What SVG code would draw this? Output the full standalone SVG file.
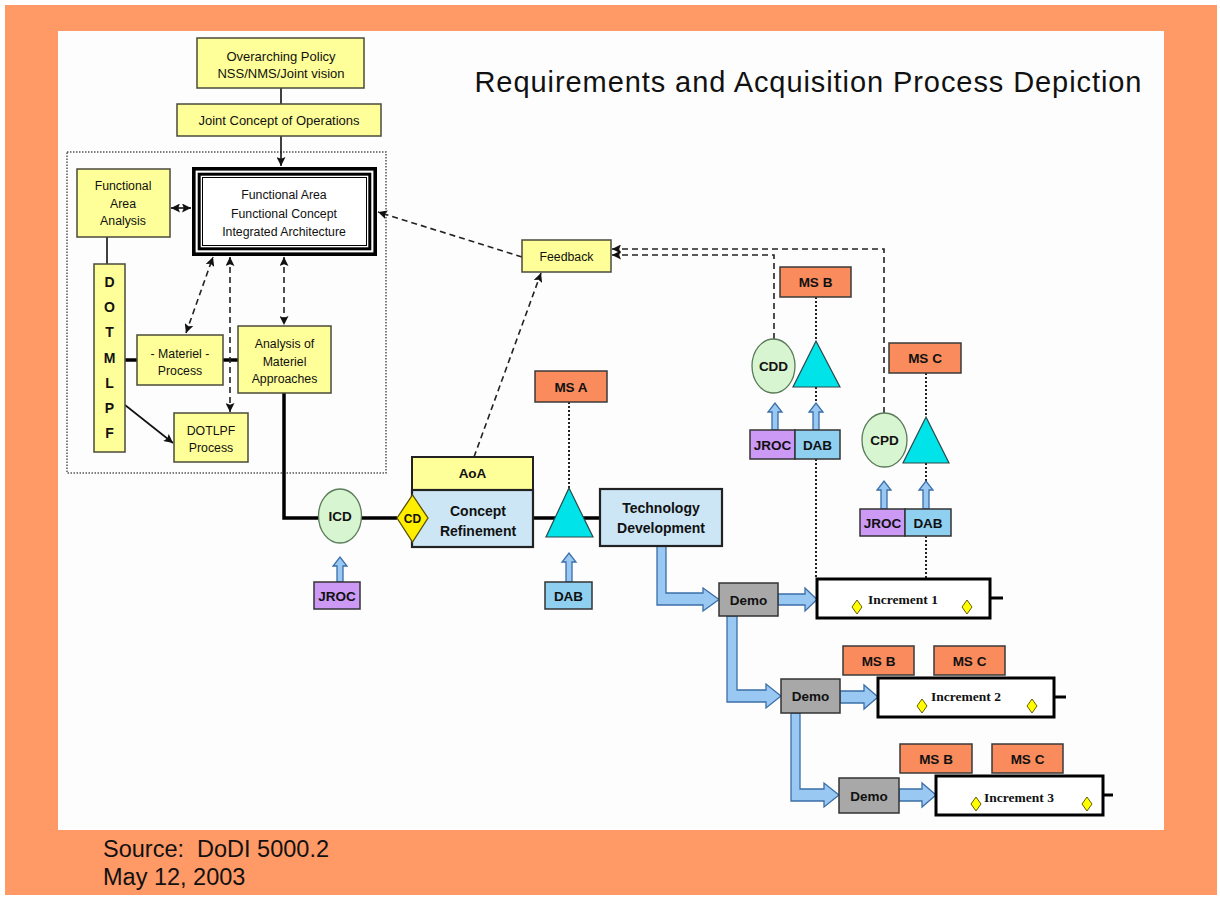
<svg xmlns="http://www.w3.org/2000/svg" width="1220" height="898" viewBox="0 0 1220 898">
  <defs>
    <style>
      text { font-family: "Liberation Sans", Arial, sans-serif; fill: #111; text-anchor: middle; }
      .r13 { font-size: 13px; }
      .r12 { font-size: 12.3px; }
      .b13 { font-size: 13.5px; font-weight: bold; }
      .b14 { font-size: 14px; font-weight: bold; }
      .inc { font-family: "Liberation Serif", "Times New Roman", serif; font-size: 13.5px; font-weight: bold; }
      .yel { fill: #ffff99; stroke: #4a4a3a; stroke-width: 1.5; }
      .ms { fill: #f98b5c; stroke: #3a3a3a; stroke-width: 1.5; }
      .lb { fill: #cce6f6; stroke: #222; stroke-width: 2.2; }
      .jroc { fill: #cc99f5; stroke: #333; stroke-width: 1.5; }
      .dab { fill: #8fd0f0; stroke: #333; stroke-width: 1.5; }
      .tri { fill: #00e3e8; stroke: #2a4a4a; stroke-width: 1.2; }
      .ell { fill: #d6f5d0; stroke: #5a7a5a; stroke-width: 1.3; }
      .demo { fill: #a8a8a8; stroke: #333; stroke-width: 1.5; }
      .incbox { fill: #ffffff; stroke: #000; stroke-width: 3; }
      .dia { fill: #ffff00; stroke: #6a5a00; stroke-width: 1; }
      .barrow { fill: #99c9f2; stroke: #3b6ea8; stroke-width: 1.3; }
      .solid { fill: none; stroke: #111; stroke-width: 1.6; }
      .thick { fill: none; stroke: #000; stroke-width: 3.5; }
      .dash { fill: none; stroke: #222; stroke-width: 1.6; stroke-dasharray: 6 4; }
      .dot { fill: none; stroke: #222; stroke-width: 2; stroke-dasharray: 2 2; }
    </style>
    <marker id="ah" viewBox="0 0 10 10" refX="10" refY="5" markerWidth="9" markerHeight="9" markerUnits="userSpaceOnUse" orient="auto-start-reverse">
      <path d="M0,0 L10,5 L0,10 L2,5 Z" fill="#111"/>
    </marker>
  </defs>

  <!-- slide background -->
  <rect x="0" y="0" width="1220" height="898" fill="#ffffff"/>
  <rect x="5" y="5" width="1212" height="890" fill="#ff9966"/>
  <rect x="58" y="31" width="1106" height="799" fill="#fdfdfd"/>

  <text x="808" y="92" font-size="29" textLength="667" lengthAdjust="spacing">Requirements and Acquisition Process Depiction</text>

  <text x="103" y="857" font-size="23.5" style="text-anchor:start">Source:&#160; DoDI 5000.2</text>
  <text x="103" y="885" font-size="23.5" style="text-anchor:start">May 12, 2003</text>

  <!-- dotted frame around the functional analysis area -->
  <rect x="67" y="152" width="319" height="321" fill="none" stroke="#555" stroke-width="1.5" stroke-dasharray="1.5 1.5"/>

  <!-- connectors -->
  <g id="connectors">
    <path class="solid" d="M281,88 V104"/>
    <path class="solid" d="M281,136 V166" marker-end="url(#ah)"/>
    <path class="solid" d="M171,208 H191" marker-start="url(#ah)" marker-end="url(#ah)"/>
    <path class="solid" d="M107,237 V264"/>
    <path class="thick" d="M125,360 H137"/>
    <path class="thick" d="M223,360 H238"/>
    <path class="solid" d="M125,405 L173,443" marker-end="url(#ah)"/>
    <path class="dash" d="M186,333 L213,257" marker-start="url(#ah)" marker-end="url(#ah)"/>
    <path class="dash" d="M230,257 V412" marker-start="url(#ah)" marker-end="url(#ah)"/>
    <path class="dash" d="M284,257 V325" marker-start="url(#ah)" marker-end="url(#ah)"/>
    <path class="thick" d="M284,393 V518 H318"/>
    <path class="thick" d="M361,518 H397"/>
    <path class="thick" d="M533,518 H600"/>
    <path class="dash" d="M522,257 L378,212" marker-end="url(#ah)"/>
    <path class="dash" d="M474,457 L541,273" marker-end="url(#ah)"/>
    <path class="dash" d="M774,339 V255 H612" marker-end="url(#ah)"/>
    <path class="dash" d="M884,413 V249 H612" marker-end="url(#ah)"/>
    <path class="dot" d="M569,402 V488"/>
    <path class="dot" d="M816,297 V341 M816,387 V430 M816,459 V578"/>
    <path class="dot" d="M926,373 V417 M926,463 V509 M926,536 V578"/>
  </g>

  <!-- block arrows -->
  <g id="flow-arrows">
    <path class="barrow" d="M657,546 V605 H703 V611 L719,599.5 L703,588 V593 H666 V546 Z"/>
    <path class="barrow" d="M778,594 H805 V588 L817,599.5 L805,611 V605 H778 Z"/>
    <path class="barrow" d="M727,616 V702 H766 V708 L781,696 L766,684 V690 H737 V616 Z"/>
    <path class="barrow" d="M840,691 H864 V685 L878,697 L864,709 V703 H840 Z"/>
    <path class="barrow" d="M791,713 V801 H824 V807 L839,795 L824,783 V789 H800 V713 Z"/>
    <path class="barrow" d="M899,789 H922 V783 L936,795 L922,807 V801 H899 Z"/>
    <path class="barrow" d="M337,582 V566 H333 L340,557 L347,566 H343 V582 Z"/>
    <path class="barrow" d="M566,582 V562 H562 L569,553 L576,562 H572 V582 Z"/>
    <path class="barrow" d="M772,430 V412 H768 L775,403 L782,412 H778 V430 Z"/>
    <path class="barrow" d="M813,430 V412 H809 L816,403 L823,412 H819 V430 Z"/>
    <path class="barrow" d="M881,509 V490 H877 L884,481 L891,490 H887 V509 Z"/>
    <path class="barrow" d="M923,509 V490 H919 L926,481 L933,490 H929 V509 Z"/>
  </g>

  <g id="overarching-policy">
    <rect class="yel" x="197" y="38" width="167" height="50"/>
    <text class="r13" x="281" y="61">Overarching Policy</text>
    <text class="r13" x="281" y="78">NSS/NMS/Joint vision</text>
  </g>

  <g id="joint-concept">
    <rect class="yel" x="177" y="104" width="204" height="32"/>
    <text class="r13" x="279" y="125">Joint Concept of Operations</text>
  </g>

  <g id="functional-area">
    <rect x="193.8" y="168.8" width="181.4" height="85.4" fill="#fff" stroke="#000" stroke-width="3.6"/>
    <rect x="199.2" y="174.2" width="170.6" height="74.6" fill="none" stroke="#000" stroke-width="3"/>
    <rect x="202.5" y="177.5" width="164" height="68" fill="none" stroke="#000" stroke-width="1"/>
    <text class="r12" x="284" y="198.5">Functional Area</text>
    <text class="r12" x="284" y="217.5">Functional Concept</text>
    <text class="r12" x="284" y="235.5">Integrated Architecture</text>
  </g>

  <g id="functional-area-analysis">
    <rect class="yel" x="77" y="169" width="93" height="68"/>
    <text class="r12" x="123" y="190">Functional</text>
    <text class="r12" x="123" y="208">Area</text>
    <text class="r12" x="123" y="225">Analysis</text>
  </g>

  <g id="dotmlpf">
    <rect class="yel" x="94" y="264" width="31" height="188"/>
    <text class="b14" x="109.5" y="287">D</text>
    <text class="b14" x="109.5" y="312">O</text>
    <text class="b14" x="109.5" y="337">T</text>
    <text class="b14" x="109.5" y="363">M</text>
    <text class="b14" x="109.5" y="388">L</text>
    <text class="b14" x="109.5" y="413">P</text>
    <text class="b14" x="109.5" y="438">F</text>
  </g>

  <g id="materiel-process">
    <rect class="yel" x="137" y="335" width="86" height="50"/>
    <text class="r12" x="180" y="357.5">- Materiel -</text>
    <text class="r12" x="180" y="374.5">Process</text>
  </g>

  <g id="analysis-materiel">
    <rect class="yel" x="238" y="326" width="93" height="67"/>
    <text class="r12" x="284.5" y="347.5">Analysis of</text>
    <text class="r12" x="284.5" y="365.5">Materiel</text>
    <text class="r12" x="284.5" y="382.5">Approaches</text>
  </g>

  <g id="dotlpf-process">
    <rect class="yel" x="174" y="413" width="74" height="49"/>
    <text class="r12" x="211" y="434.5">DOTLPF</text>
    <text class="r12" x="211" y="451.5">Process</text>
  </g>

  <g id="feedback">
    <rect class="yel" x="522" y="240" width="89" height="32"/>
    <text class="r12" x="566.5" y="260.5">Feedback</text>
  </g>

  <g id="icd">
    <ellipse class="ell" cx="340" cy="516" rx="21.5" ry="27"/>
    <text class="b13" x="340" y="521">ICD</text>
  </g>

  <g id="jroc-icd">
    <rect class="jroc" x="314" y="582" width="46" height="27"/>
    <text class="b13" x="337" y="600.5">JROC</text>
  </g>

  <g id="aoa">
    <rect class="yel" x="412" y="457" width="121" height="33" style="stroke:#222;stroke-width:2"/>
    <text class="b13" x="472.5" y="478">AoA</text>
  </g>

  <g id="concept-refinement">
    <rect class="lb" x="412" y="490" width="121" height="57"/>
    <text class="b14" x="478" y="516">Concept</text>
    <text class="b14" x="478" y="535.5">Refinement</text>
  </g>

  <g id="cd">
    <path d="M397,518 L412.5,495 L428,518 L412.5,542 Z" fill="#ffee00" stroke="#5a5000" stroke-width="1.3"/>
    <text class="b13" x="412.5" y="523" style="font-size:12px">CD</text>
  </g>

  <g id="ms-a">
    <rect class="ms" x="535" y="371" width="72" height="31"/>
    <text class="b13" x="571" y="391.5">MS A</text>
    <path class="tri" d="M569,488 L593,537 L546,537 Z"/>
  </g>

  <g id="dab-a">
    <rect class="dab" x="545" y="582" width="47" height="27"/>
    <text class="b13" x="568.5" y="600.5">DAB</text>
  </g>

  <g id="technology-development">
    <rect class="lb" x="600" y="489" width="122" height="57"/>
    <text class="b14" x="661" y="513">Technology</text>
    <text class="b14" x="661" y="533">Development</text>
  </g>

  <g id="ms-b">
    <rect class="ms" x="780" y="267" width="71" height="30"/>
    <text class="b13" x="815.5" y="287">MS B</text>
    <path class="tri" d="M816,341 L840,387 L793,387 Z"/>
  </g>

  <g id="cdd">
    <ellipse class="ell" cx="773.5" cy="366" rx="21.5" ry="27"/>
    <text class="b13" x="773.5" y="371">CDD</text>
  </g>

  <g id="jroc-dab-b">
    <rect class="jroc" x="750" y="430" width="45" height="29"/>
    <rect class="dab" x="795" y="430" width="45" height="29"/>
    <text class="b13" x="772.5" y="449.5">JROC</text>
    <text class="b13" x="817.5" y="449.5">DAB</text>
  </g>

  <g id="ms-c">
    <rect class="ms" x="889" y="343" width="72" height="30"/>
    <text class="b13" x="925" y="363">MS C</text>
    <path class="tri" d="M926,417 L949,463 L903,463 Z"/>
  </g>

  <g id="cpd">
    <ellipse class="ell" cx="884.5" cy="440" rx="22.5" ry="27"/>
    <text class="b13" x="884.5" y="445">CPD</text>
  </g>

  <g id="jroc-dab-c">
    <rect class="jroc" x="860" y="509" width="45" height="27"/>
    <rect class="dab" x="905" y="509" width="46" height="27"/>
    <text class="b13" x="882.5" y="527.5">JROC</text>
    <text class="b13" x="928" y="527.5">DAB</text>
  </g>

  <g id="demo-1">
    <rect class="demo" x="719" y="583" width="59" height="33"/>
    <text class="b13" x="748.5" y="604.5">Demo</text>
  </g>

  <g id="increment-1">
    <path d="M990,598 H1003" stroke="#000" stroke-width="3"/>
    <rect class="incbox" x="817" y="579" width="173" height="39"/>
    <path class="dia" d="M857,600 L862,607 L857,614 L852,607 Z"/>
    <path class="dia" d="M967,600 L972,607 L967,614 L962,607 Z"/>
    <text class="inc" x="903" y="604">Increment 1</text>
  </g>

  <g id="demo-2">
    <rect class="demo" x="781" y="679" width="59" height="34"/>
    <text class="b13" x="810.5" y="701">Demo</text>
  </g>

  <g id="increment-2">
    <rect class="ms" x="843" y="646" width="71" height="29"/>
    <text class="b13" x="878.5" y="665.5">MS B</text>
    <rect class="ms" x="934" y="646" width="71" height="29"/>
    <text class="b13" x="969.5" y="665.5">MS C</text>
    <path d="M1054,697 H1066" stroke="#000" stroke-width="3"/>
    <rect class="incbox" x="878" y="678" width="176" height="39"/>
    <path class="dia" d="M922,699 L927,706 L922,713 L917,706 Z"/>
    <path class="dia" d="M1032,699 L1037,706 L1032,713 L1027,706 Z"/>
    <text class="inc" x="966" y="701">Increment 2</text>
  </g>

  <g id="demo-3">
    <rect class="demo" x="839" y="778" width="60" height="35"/>
    <text class="b13" x="869" y="800.5">Demo</text>
  </g>

  <g id="increment-3">
    <rect class="ms" x="900" y="744" width="72" height="29"/>
    <text class="b13" x="936" y="763.5">MS B</text>
    <rect class="ms" x="992" y="744" width="71" height="29"/>
    <text class="b13" x="1027.5" y="763.5">MS C</text>
    <path d="M1103,795 H1113" stroke="#000" stroke-width="3"/>
    <rect class="incbox" x="936" y="776" width="167" height="39"/>
    <path class="dia" d="M976,797 L981,804 L976,811 L971,804 Z"/>
    <path class="dia" d="M1087,797 L1092,804 L1087,811 L1082,804 Z"/>
    <text class="inc" x="1019" y="802">Increment 3</text>
  </g>
</svg>
